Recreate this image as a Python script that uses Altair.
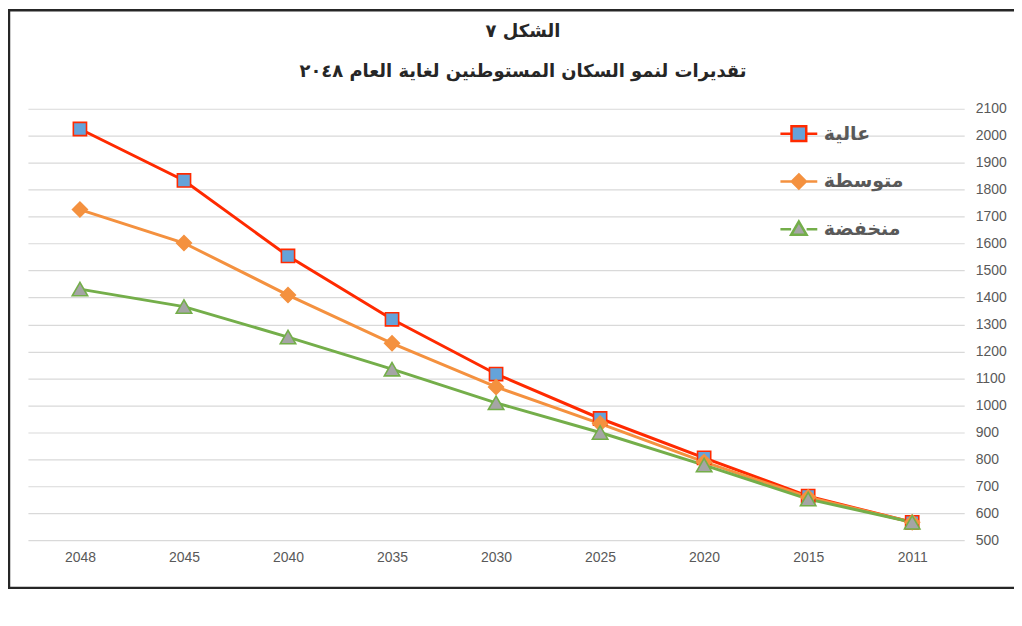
import altair as alt
import pandas as pd

years = ["2048", "2045", "2040", "2035", "2030", "2025", "2020", "2015", "2011"]
high = [2025, 1834, 1554, 1319, 1116, 951, 805, 663, 566]
medium = [1726, 1602, 1409, 1230, 1068, 932, 790, 659, 566]
low = [1431, 1366, 1253, 1134, 1009, 899, 778, 652, 566]
series_names = ["عالية", "متوسطة", "منخفضة"]
y_ticks = list(range(500, 2101, 100))
title_lines = ["الشكل ٧", "تقديرات لنمو السكان المستوطنين لغاية العام ٢٠٤٨"]

rows = []
for name, vals in zip(series_names, [high, medium, low]):
    for yr, v in zip(years, vals):
        rows.append({"year": yr, "value": v, "series": name})
df = pd.DataFrame(rows)

stroke_colors = ["#FF2A00", "#F4913F", "#74AE4A"]
fill_colors = ["#65A3DA", "#F4913F", "#A5A5A5"]
point_shapes = ["square", "diamond", "triangle-up"]
point_sizes = [175, 220, 240]
line_widths = [3, 3, 3]
legend_paths = [
    "M-1,0H-0.4M0.4,0H1M-0.4,-0.4H0.4V0.4H-0.4Z",
    "M-1,0H-0.38M0.38,0H1M0,-0.38L0.38,0L0,0.38L-0.38,0Z",
    "M-1,0H-0.42M0.42,0H1M0,-0.42L0.42,0.3L-0.42,0.3Z",
]

label_color = "#595959"
x_enc = alt.X("year:N", sort=years,
              scale=alt.Scale(type="point", padding=0.5),
              axis=alt.Axis(title=None, ticks=False, domain=False, grid=False,
                            labelAngle=0, labelPadding=11, labelFont="Liberation Sans",
                            labelFontSize=14, labelColor=label_color))
y_enc = alt.Y("value:Q", scale=alt.Scale(domain=[500, 2100], nice=False, zero=False),
              axis=alt.Axis(title=None, orient="right", values=y_ticks, format="d", ticks=False,
                            domain=False, grid=True, gridColor="#D9D9D9", gridWidth=1.2,
                            labelPadding=11, labelFont="Liberation Sans",
                            labelFontSize=14, labelColor=label_color))

base = alt.Chart(df)

lines = []
points = []
for i, name in enumerate(series_names):
    sub = base.transform_filter(alt.datum.series == name)
    lines.append(sub.mark_line(color=stroke_colors[i], strokeWidth=line_widths[i]).encode(x=x_enc, y=y_enc))
    points.append(sub.mark_point(shape=point_shapes[i], size=point_sizes[i], filled=False,
                                 fill=fill_colors[i], stroke=stroke_colors[i], strokeWidth=1.6,
                                 opacity=1).encode(x=x_enc, y=y_enc))

leg = alt.Legend(title=None, orient="none", legendX=754, legendY=5, padding=0,
                 symbolSize=1369, symbolStrokeWidth=2.5, rowPadding=15, labelOffset=5,
                 labelFont="DejaVu Sans", labelFontSize=19, labelFontWeight="bold",
                 labelColor=label_color, labelLimit=300)

legend_layer = base.transform_filter(alt.datum.value < 0).mark_point(strokeWidth=2.5, opacity=1).encode(
    x=x_enc, y=y_enc,
    stroke=alt.Stroke("series:N", scale=alt.Scale(domain=series_names, range=stroke_colors), legend=leg),
    fill=alt.Fill("series:N", scale=alt.Scale(domain=series_names, range=fill_colors), legend=leg),
    shape=alt.Shape("series:N", scale=alt.Scale(domain=series_names, range=legend_paths), legend=leg),
)

border = alt.Chart(alt.Data(values=[{"k": 1}])).mark_rect(
    fill=None, stroke="#262626", strokeWidth=2.5
).encode(x=alt.value(-19), x2=alt.value(1005), y=alt.value(-99), y2=alt.value(481))

chart = alt.layer(border, *lines, *points, legend_layer).properties(
    width=940, height=433,
    background="white",
    autosize=alt.AutoSizeParams(type="none"),
    padding={"left": 20, "top": 100, "right": 50, "bottom": 60},
    title=alt.TitleParams(text=title_lines, anchor="middle", dx=27, dy=96, offset=24,
                          font="DejaVu Sans", fontSize=18, fontWeight="bold",
                          color="#262626", lineHeight=40),
).configure_view(stroke=None)

chart.save("out.html", embed_options={"renderer": "svg", "actions": False})
